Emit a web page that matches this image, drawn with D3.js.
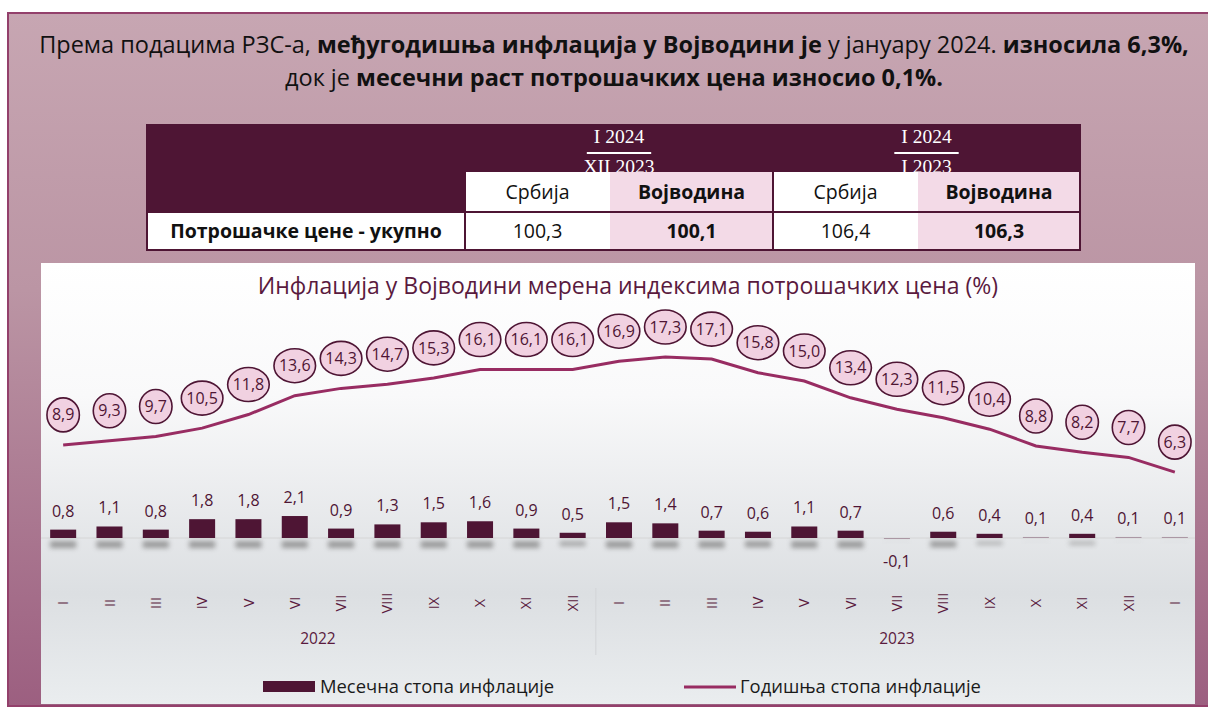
<!DOCTYPE html>
<html>
<head>
<meta charset="utf-8">
<script src="https://cdn.jsdelivr.net/npm/d3@7"></script>
<style>
  body { margin: 0; background: #ffffff; }
  svg { display: block; font-family: "Open Sans", "Noto Sans", sans-serif; }
</style>
</head>
<body>
<svg id="chart" width="1208" height="708"></svg>
<script>
// chart values
var months = ["I", "II", "III", "IV", "V", "VI", "VII", "VIII", "IX", "X", "XI", "XII",
              "I", "II", "III", "IV", "V", "VI", "VII", "VIII", "IX", "X", "XI", "XII", "I"];
var years = [{ label: "2022", first: 0, last: 11 }, { label: "2023", first: 12, last: 24 }];
var annualRate = [8.9, 9.3, 9.7, 10.5, 11.8, 13.6, 14.3, 14.7, 15.3, 16.1, 16.1, 16.1,
                  16.9, 17.3, 17.1, 15.8, 15.0, 13.4, 12.3, 11.5, 10.4, 8.8, 8.2, 7.7, 6.3];
var monthlyRate = [0.8, 1.1, 0.8, 1.8, 1.8, 2.1, 0.9, 1.3, 1.5, 1.6, 0.9, 0.5,
                   1.5, 1.4, 0.7, 0.6, 1.1, 0.7, -0.1, 0.6, 0.4, 0.1, 0.4, 0.1, 0.1];

// table values
var tableGroups = [{ top: "I 2024", bottom: "XII 2023" }, { top: "I 2024", bottom: "I 2023" }];
var tableCols = ["Србија", "Војводина", "Србија", "Војводина"];
var tableRowLabel = "Потрошачке цене - укупно";
var tableValues = ["100,3", "100,1", "106,4", "106,3"];

var seriesNames = ["Месечна стопа инфлације", "Годишња стопа инфлације"];
var chartTitle = "Инфлација у Војводини мерена индексима потрошачких цена (%)";

var maroon = "#4e1534";
var lineColor = "#982c62";
var pink = "#f3dae7";

var svg = d3.select("#chart");
var defs = svg.append("defs");

function fmt(v) { return v.toFixed(1).replace(".", ","); }

// ---------- background frame ----------
var fg = defs.append("linearGradient").attr("id", "frameGrad")
    .attr("x1", 0).attr("y1", 0).attr("x2", 0).attr("y2", 1);
fg.append("stop").attr("offset", "0%").attr("stop-color", "#c7a6b2");
fg.append("stop").attr("offset", "40%").attr("stop-color", "#bb95a4");
fg.append("stop").attr("offset", "100%").attr("stop-color", "#9c5f80");

svg.append("rect")
    .attr("x", 8).attr("y", 13).attr("width", 1215).attr("height", 693)
    .attr("fill", "url(#frameGrad)")
    .attr("stroke", "#93406b").attr("stroke-width", 2);

// ---------- header text ----------
var header = [
    [{ t: "Према подацима РЗС-а, ", b: false }, { t: "међугодишња инфлација у Војводини је", b: true },
     { t: " у јануару 2024. ", b: false }, { t: "износила 6,3%,", b: true }],
    [{ t: "док је ", b: false }, { t: "месечни раст потрошачких цена износио 0,1%.", b: true }]
];
header.forEach(function (line, i) {
    var txt = svg.append("text")
        .attr("x", 614).attr("y", 53 + i * 33)
        .attr("text-anchor", "middle")
        .style("font-size", "23.5px").style("fill", "#111");
    line.forEach(function (p) {
        txt.append("tspan").text(p.t).style("font-weight", p.b ? "bold" : "normal");
    });
});

// ---------- table ----------
var colEdges = [147, 465, 610, 773, 918, 1080];
var rowTop = 125, subTop = 172, dataTop = 212, tableBottom = 250;

svg.append("rect").attr("x", 147).attr("y", rowTop)
    .attr("width", 1080 - 147).attr("height", dataTop - rowTop).attr("fill", maroon);

// fraction headers
tableGroups.forEach(function (g, i) {
    var cx = (colEdges[1 + i * 2] + colEdges[3 + i * 2]) / 2;
    var tTop = svg.append("text").attr("x", cx).attr("y", 143)
        .attr("text-anchor", "middle")
        .style("font-family", "'Liberation Serif', 'DejaVu Serif', serif")
        .style("font-size", "19.5px").style("fill", "#fff").text(g.top);
    var w = tTop.node().getComputedTextLength() + 14;
    svg.append("line").attr("x1", cx - w / 2).attr("x2", cx + w / 2)
        .attr("y1", 153).attr("y2", 153).attr("stroke", "#fff").attr("stroke-width", 2);
    svg.append("text").attr("x", cx).attr("y", 173)
        .attr("text-anchor", "middle")
        .style("font-family", "'Liberation Serif', 'DejaVu Serif', serif")
        .style("font-size", "19.5px").style("fill", "#fff").text(g.bottom);
});

// column header cells + data cells
tableCols.forEach(function (c, i) {
    var x0 = colEdges[i + 1], x1 = colEdges[i + 2];
    var bold = i % 2 == 1;
    svg.append("rect").attr("x", x0).attr("y", subTop).attr("width", x1 - x0)
        .attr("height", tableBottom - subTop).attr("fill", bold ? pink : "#fff");
    svg.append("text").attr("x", (x0 + x1) / 2).attr("y", 199)
        .attr("text-anchor", "middle")
        .style("font-size", "19.5px").style("font-weight", bold ? "bold" : "normal")
        .style("fill", "#111").text(c);
    svg.append("text").attr("x", (x0 + x1) / 2).attr("y", 238)
        .attr("text-anchor", "middle")
        .style("font-size", "19.5px").style("font-weight", bold ? "bold" : "normal")
        .style("fill", "#111").text(tableValues[i]);
});
svg.append("rect").attr("x", 147).attr("y", dataTop).attr("width", 465 - 147)
    .attr("height", tableBottom - dataTop).attr("fill", "#fff");
svg.append("text").attr("x", 306).attr("y", 238).attr("text-anchor", "middle")
    .style("font-size", "19.5px").style("font-weight", "bold").style("fill", "#111")
    .text(tableRowLabel);

// table rules
svg.append("line").attr("x1", 147).attr("x2", 1080).attr("y1", dataTop).attr("y2", dataTop)
    .attr("stroke", maroon).attr("stroke-width", 2);
svg.append("rect").attr("x", 147).attr("y", rowTop).attr("width", 1080 - 147)
    .attr("height", tableBottom - rowTop).attr("fill", "none")
    .attr("stroke", maroon).attr("stroke-width", 2);
[465, 773].forEach(function (x) {
    svg.append("line").attr("x1", x).attr("x2", x).attr("y1", subTop).attr("y2", tableBottom)
        .attr("stroke", maroon).attr("stroke-width", 2);
});

// ---------- chart panel ----------
var pg = defs.append("linearGradient").attr("id", "panelGrad")
    .attr("x1", 0).attr("y1", 0).attr("x2", 0).attr("y2", 1);
pg.append("stop").attr("offset", "0%").attr("stop-color", "#ffffff");
pg.append("stop").attr("offset", "30%").attr("stop-color", "#f9f9fa");
pg.append("stop").attr("offset", "75%").attr("stop-color", "#dcdfe2");
pg.append("stop").attr("offset", "100%").attr("stop-color", "#eaedef");

svg.append("rect").attr("x", 41).attr("y", 263).attr("width", 1154).attr("height", 441)
    .attr("fill", "url(#panelGrad)");

svg.append("text").attr("x", 628).attr("y", 294).attr("text-anchor", "middle")
    .style("font-size", "23px").style("fill", "#5a1a3e").text(chartTitle);

var x = d3.scaleBand().domain(d3.range(months.length)).range([40, 1198]);
var y = d3.scaleLinear().domain([0, 17.3]).range([538, 357]);
function cx(i) { return x(i) + x.bandwidth() / 2; }
var barW = 26;

// baseline
svg.append("line").attr("x1", 41).attr("x2", 1195).attr("y1", y(0)).attr("y2", y(0))
    .attr("stroke", "#d6d6d6").attr("stroke-width", 1);

// bar shadows
var blur = defs.append("filter").attr("id", "shadowBlur")
    .attr("x", "-50%").attr("y", "-100%").attr("width", "200%").attr("height", "300%");
blur.append("feGaussianBlur").attr("stdDeviation", 2.5);

svg.selectAll(".shadow").data(monthlyRate).enter().append("rect")
    .attr("class", "shadow")
    .attr("x", function (d, i) { return cx(i) - barW / 2; })
    .attr("y", y(0) + 3)
    .attr("width", barW)
    .attr("height", function (d) { return Math.min(Math.abs(y(d) - y(0)), 7); })
    .attr("fill", "#7a7a7a")
    .attr("opacity", function (d) { return Math.min(Math.abs(d) / 0.6, 1) * 0.7; })
    .attr("filter", "url(#shadowBlur)");

// bars
svg.selectAll(".bar").data(monthlyRate).enter().append("rect")
    .attr("class", "bar")
    .attr("x", function (d, i) { return cx(i) - barW / 2; })
    .attr("y", function (d) { return d >= 0 ? y(d) : y(0); })
    .attr("width", barW)
    .attr("height", function (d) { return Math.max(Math.abs(y(d) - y(0)), 1); })
    .attr("fill", maroon)
    .attr("opacity", function (d) { return Math.abs(d) < 0.15 ? 0.35 : 1; });

// bar labels
svg.selectAll(".barLabel").data(monthlyRate).enter().append("text")
    .attr("class", "barLabel")
    .attr("x", function (d, i) { return cx(i); })
    .attr("y", function (d) { return d >= 0 ? y(d) - 13 : y(0) + 29; })
    .attr("text-anchor", "middle")
    .style("font-size", "16px").style("fill", maroon)
    .text(fmt);

// annual line
var line = d3.line()
    .x(function (d, i) { return cx(i); })
    .y(function (d) { return y(d); });
svg.append("path").datum(annualRate)
    .attr("d", line)
    .attr("fill", "none")
    .attr("stroke", lineColor)
    .attr("stroke-width", 3);

// annual labels in ellipses
var lab = svg.selectAll(".annLabel").data(annualRate).enter().append("g")
    .attr("class", "annLabel")
    .attr("transform", function (d, i) { return "translate(" + cx(i) + "," + (y(d) - 30) + ")"; });
var ell = lab.append("ellipse").attr("fill", "#f1d1e1")
    .attr("stroke", "#4e1534").attr("stroke-width", 1.6);
var labTxt = lab.append("text")
    .attr("text-anchor", "middle").attr("dy", "0.35em")
    .style("font-size", "16px").style("fill", maroon)
    .text(fmt);
labTxt.each(function (d, i) {
    var w = this.getComputedTextLength();
    d3.select(ell.nodes()[i]).attr("rx", Math.max(w / 2 + 5, 16)).attr("ry", 17);
});

// month labels (rotated)
svg.selectAll(".month").data(months).enter().append("text")
    .attr("class", "month")
    .attr("transform", function (d, i) { return "translate(" + cx(i) + ",603) rotate(-90)"; })
    .attr("text-anchor", "middle").attr("dy", "0.35em")
    .style("font-size", "14.5px").style("fill", "#5a1a3e")
    .text(function (d) { return d; });

// year labels and separator
years.forEach(function (yr) {
    var mid = (cx(yr.first) + cx(yr.last)) / 2;
    svg.append("text").attr("x", mid).attr("y", 644).attr("text-anchor", "middle")
        .style("font-size", "15.5px").style("fill", "#5a1a3e").text(yr.label);
});
svg.append("line").attr("x1", x(12)).attr("x2", x(12)).attr("y1", 588).attr("y2", 655)
    .attr("stroke", "#d2d4d7").attr("stroke-width", 1);

// legend
svg.append("rect").attr("x", 263).attr("y", 681).attr("width", 52).attr("height", 11)
    .attr("fill", maroon);
svg.append("text").attr("x", 320).attr("y", 693)
    .style("font-size", "18.4px").style("fill", "#1a1a1a").text(seriesNames[0]);
svg.append("line").attr("x1", 684).attr("x2", 736).attr("y1", 687).attr("y2", 687)
    .attr("stroke", lineColor).attr("stroke-width", 3);
svg.append("text").attr("x", 740).attr("y", 693)
    .style("font-size", "18.4px").style("fill", "#1a1a1a").text(seriesNames[1]);
</script>
</body>
</html>
